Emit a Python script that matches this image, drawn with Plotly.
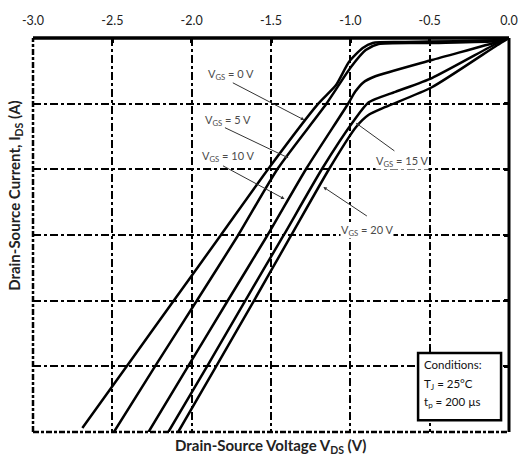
import plotly.graph_objects as go

# ---- data (V_DS in volts, I_DS in amps; third quadrant) ----
vgs_labels = ["0", "5", "10", "15", "20"]

v_vgs0 = [0.0, -0.075, -0.673, -0.859, -0.922, -1.009, -1.090, -1.202, -1.513, -1.820, -2.110, -2.407, -2.689]
i_vgs0 = [0.0, -0.30, -0.61, -0.76, -1.52, -3.65, -7.16, -10.0, -19.8, -30.15, -39.9, -49.9, -59.4]

v_vgs5 = [0.0, -0.075, -0.467, -0.822, -0.903, -0.996, -1.152, -1.455, -1.710, -1.965, -2.228, -2.490]
i_vgs5 = [0.0, -0.46, -0.76, -0.91, -1.83, -4.42, -10.05, -19.8, -30.15, -39.9, -49.9, -60.0]

v_vgs10 = [0.0, -0.075, -0.486, -0.850, -0.920, -0.970, -1.015, -1.275, -1.525, -1.770, -2.020, -2.272]
i_vgs10 = [0.0, -0.61, -3.35, -5.9, -6.8, -8.2, -10.05, -19.8, -30.15, -39.9, -49.9, -60.0]

v_vgs15 = [0.0, -0.075, -0.486, -0.716, -0.884, -0.975, -1.175, -1.423, -1.660, -1.900, -2.147]
i_vgs15 = [0.0, -0.8, -6.1, -8.2, -9.8, -12.5, -19.8, -30.15, -39.9, -49.9, -60.0]

v_vgs20 = [0.0, -0.075, -0.486, -0.778, -0.884, -0.965, -1.130, -1.375, -1.605, -1.843, -2.085]
i_vgs20 = [0.0, -1.1, -7.5, -10.5, -11.7, -13.6, -19.8, -30.15, -39.9, -49.9, -60.0]

x_ticks = [-3.0, -2.5, -2.0, -1.5, -1.0, -0.5, 0.0]
x_ticktext = ["-3.0", "-2.5", "-2.0", "-1.5", "-1.0", "-0.5", "0.0"]
y_ticks = [-60, -50, -40, -30, -20, -10, 0]

# label text positions and arrow tips (data coords) + arrow tail offsets (px)
lab_x = [-1.755, -1.774, -1.768, -0.672, -0.896]
lab_y = [-5.63, -12.49, -18.12, -18.88, -29.24]
tip_x = [-1.290, -1.390, -1.415, -0.965, -1.170]
tip_y = [-12.49, -18.27, -24.52, -12.94, -22.69]
tail_dx = [-73, -65, -63, 40, 45]
tail_dy = [-38, -31, -34, 29, 30]

cond_lines = ["Conditions:", "T<sub>J</sub> = 25°C", "t<sub>p</sub> = 200 µs"]

FONT = "Lato"

fig = go.Figure()
series = [(v_vgs0, i_vgs0), (v_vgs5, i_vgs5), (v_vgs10, i_vgs10), (v_vgs15, i_vgs15), (v_vgs20, i_vgs20)]
for (vx, iy), lab in zip(series, vgs_labels):
    fig.add_trace(go.Scatter(
        x=vx, y=iy, mode="lines", name=f"VGS = {lab} V",
        line=dict(color="black", width=2.5, shape="spline", smoothing=0.6),
        showlegend=False, hoverinfo="skip"))

annotations = []
for k, lab in enumerate(vgs_labels):
    annotations.append(dict(
        x=lab_x[k], y=lab_y[k], xref="x", yref="y",
        text=f"V<sub>GS</sub> = {lab} V", showarrow=False,
        font=dict(family=FONT, size=11, color="#4a4a4a"),
        bgcolor="white", borderpad=0))
    annotations.append(dict(
        x=tip_x[k], y=tip_y[k], xref="x", yref="y", text="",
        showarrow=True, ax=tail_dx[k], ay=tail_dy[k],
        arrowhead=2, arrowsize=0.7, arrowwidth=1, arrowcolor="#333333"))

# axis titles
annotations.append(dict(
    x=0.5, y=-0.036, xref="paper", yref="paper", showarrow=False,
    xanchor="center", yanchor="middle",
    text="<b>Drain-Source Voltage V<sub>DS</sub> (V)</b>",
    font=dict(family=FONT, size=15, color="#222222")))
annotations.append(dict(
    x=-0.0394, y=0.60, xref="paper", yref="paper", showarrow=False,
    xanchor="center", yanchor="middle",
    text="<b>Drain-Source Current, I<sub>DS</sub> (A)</b>", textangle=-90,
    font=dict(family=FONT, size=15, color="#222222")))

# conditions text
cond_y = [-49.7, -52.7, -55.5]
for t, yy in zip(cond_lines, cond_y):
    annotations.append(dict(
        x=-0.55, y=yy, xref="x", yref="y", xanchor="left", showarrow=False,
        text=t, font=dict(family=FONT, size=11.5, color="#111111")))

shapes = [
    # conditions box
    dict(type="rect", xref="x", yref="y", x0=-0.573, x1=-0.050, y0=-58.2, y1=-47.97,
         line=dict(color="black", width=2.5), fillcolor="white", layer="above"),
    # borders
    dict(type="line", xref="paper", yref="paper", x0=0, x1=1, y0=1, y1=1,
         line=dict(color="black", width=3.5), layer="above"),
    dict(type="line", xref="paper", yref="paper", x0=1, x1=1, y0=0, y1=1,
         line=dict(color="black", width=3), layer="above"),
    dict(type="line", xref="paper", yref="paper", x0=0, x1=0, y0=0, y1=1,
         line=dict(color="black", width=2.5, dash="6px,2px,3px,2px"), layer="above"),
    dict(type="line", xref="paper", yref="paper", x0=0, x1=1, y0=0, y1=0,
         line=dict(color="black", width=2.5, dash="6px,2px,3px,2px"), layer="above"),
]

fig.update_layout(
    width=530, height=460,
    margin=dict(l=33, r=15, t=38, b=28),
    paper_bgcolor="white", plot_bgcolor="white",
    font=dict(family=FONT, size=12, color="#222222"),
    annotations=annotations, shapes=shapes, showlegend=False,
)
fig.update_xaxes(
    range=[-3, 0], side="top", tickvals=x_ticks, ticktext=x_ticktext,
    showgrid=True, gridcolor="black", gridwidth=1.5, griddash="8px,3px,3px,3px",
    ticks="inside", ticklen=5, tickwidth=3, tickcolor="black",
    showline=False, zeroline=False, ticklabelstandoff=10,
    tickfont=dict(family=FONT, size=12.5, color="#222222"),
)
fig.update_yaxes(
    range=[-60, 0], side="right", tickvals=y_ticks, showticklabels=False,
    showgrid=True, gridcolor="black", gridwidth=2, griddash="8px,3px,3px,3px",
    ticks="inside", ticklen=5, tickwidth=3, tickcolor="black",
    showline=False, zeroline=False,
)

fig.write_html("out.html")
